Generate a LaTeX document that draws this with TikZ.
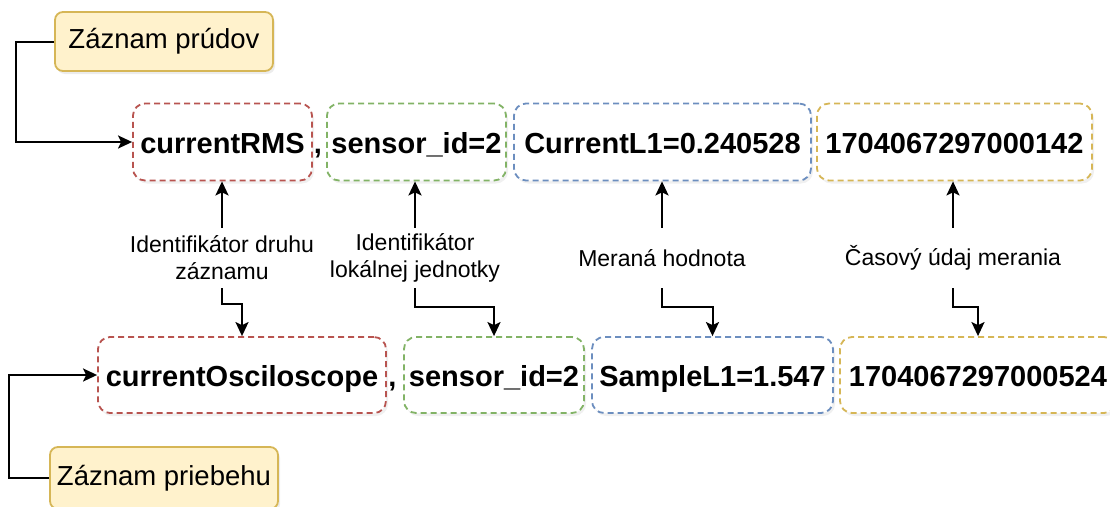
\documentclass[tikz,border=0pt]{standalone}
\usepackage{fontspec}
\setmainfont{Liberation Sans}
\usetikzlibrary{arrows.meta,shadows,calc}
\definecolor{cred}{HTML}{B85450}
\definecolor{cgreen}{HTML}{82B366}
\definecolor{cblue}{HTML}{6C8EBF}
\definecolor{cyel}{HTML}{D6B656}
\definecolor{cfill}{HTML}{FFF2CC}
\begin{document}
\begin{tikzpicture}[x=1pt,y=-1pt,
  field/.style={draw, dash pattern=on 6pt off 4pt, line width=1.8pt, rounded corners=12pt,
    fill=white, inner sep=0pt, minimum height=77pt,
    font=\fontsize{29}{34}\selectfont\bfseries, text height=28pt, text depth=6pt,
    drop shadow={opacity=0.12, shadow xshift=2pt, shadow yshift=-3pt}},
  sep/.style={inner sep=0pt, font=\fontsize{29}{34}\selectfont\bfseries, text height=28pt, text depth=6pt},
  tag/.style={draw=cyel, fill=cfill, line width=1.8pt, rounded corners=8pt, inner sep=0pt,
    font=\fontsize{27.5}{32}\selectfont,
    drop shadow={opacity=0.15, shadow xshift=2pt, shadow yshift=-3pt}},
  lbl/.style={align=center, font=\fontsize{23}{27}\selectfont, minimum height=60pt, inner sep=0pt},
  arr/.style={-{Stealth[length=14pt,width=13pt,inset=3pt]}, line width=2pt}
]
\useasboundingbox (0,0) rectangle (1110,506);

% top row
\node[field, draw=cred,   minimum width=179pt] (r1) at (222.5,142) {currentRMS};
\node[sep] (c1) at (318,142) {,};
\node[field, draw=cgreen, minimum width=179pt] (g1) at (416.5,142) {sensor\_id=2};
\node[field, draw=cblue,  minimum width=297pt] (b1) at (662.5,142) {CurrentL1=0.240528};
\node[field, draw=cyel,   minimum width=275pt] (y1) at (954.5,142) {1704067297000142};

% bottom row
\node[field, draw=cred,   minimum width=288pt, minimum height=76pt] (r2) at (242,375) {currentOsciloscope};
\node[sep] (c2) at (392.5,375) {,};
\node[field, draw=cgreen, minimum width=180pt, minimum height=76pt] (g2) at (494,375) {sensor\_id=2};
\node[field, draw=cblue,  minimum width=241pt, minimum height=76pt] (b2) at (712.5,375) {SampleL1=1.547};
\node[field, draw=cyel,   minimum width=276pt, minimum height=76pt] (y2) at (978,375) {1704067297000524};

% tags
\node[tag, minimum width=218pt, minimum height=59pt] (tp) at (164,41.5) {Záznam prúdov};
\node[tag, minimum width=228pt, minimum height=62pt] (tb) at (164,478) {Záznam priebehu};

% labels
\node[lbl] (l1) at (222,258) {Identifikátor druhu\\záznamu};
\node[lbl] (l2) at (415,258) {Identifikátor\\lokálnej jednotky};
\node[lbl] (l3) at (662,258) {Meraná hodnota};
\node[lbl] (l4) at (953,258) {Časový údaj merania};

% connectors
\draw[arr] (tp.west) -- ++(-38,0) |- (r1.west);
\draw[arr] (tb.west) -- ++(-40,0) |- (r2.west);

\draw[arr] (l1.north) -- (l1.north |- r1.south);
\draw[arr] (l2.north) -- (l2.north |- g1.south);
\draw[arr] (l3.north) -- (l3.north |- b1.south);
\draw[arr] (l4.north) -- (l4.north |- y1.south);

\draw[arr] (l1.south) -- ++(0,16) -| (r2.north);
\draw[arr] (l2.south) -- ++(0,19) -| (g2.north);
\draw[arr] (l3.south) -- ++(0,19) -| (b2.north);
\draw[arr] (l4.south) -- ++(0,19) -| (y2.north);
\end{tikzpicture}
\end{document}
